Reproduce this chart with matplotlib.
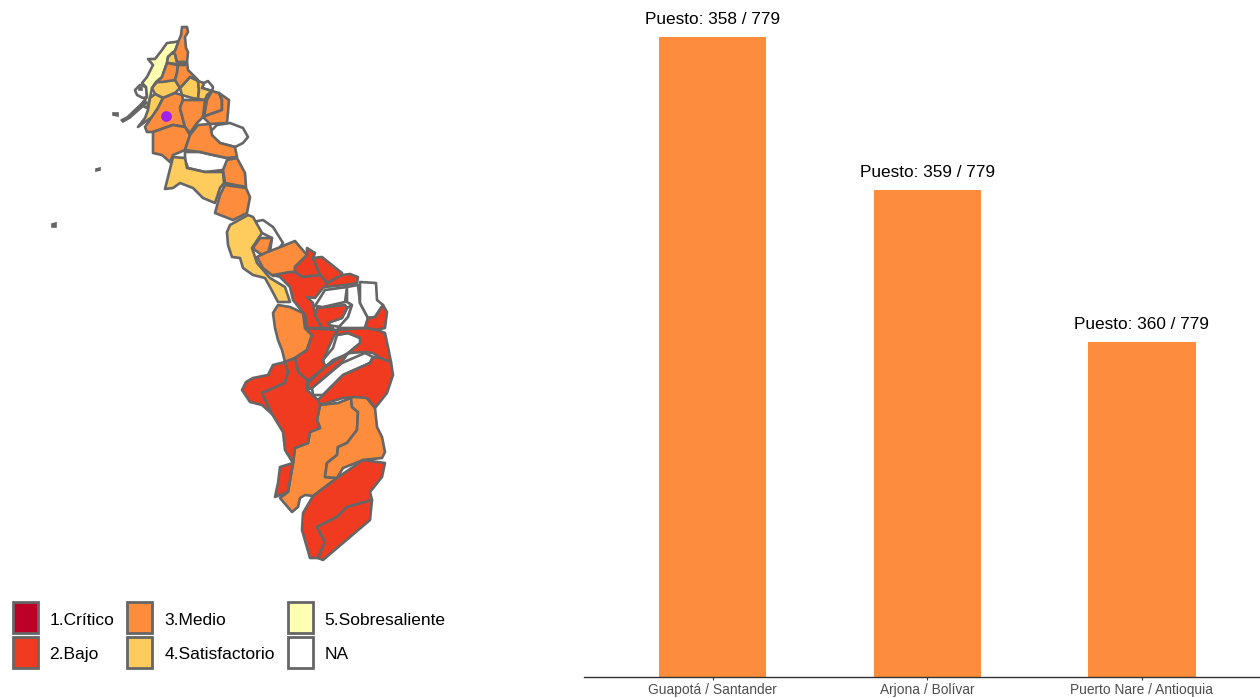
# Mapa por municipios y barras con el puesto de cada municipio
import matplotlib
matplotlib.use("Agg")
import matplotlib.pyplot as plt
from matplotlib.patches import Patch

plt.rcParams['font.family'] = ['Liberation Sans', 'DejaVu Sans']

# Datos de las barras
municipios = ["Guapotá / Santander", "Arjona / Bolívar", "Puerto Nare / Antioquia"]
puestos = ["Puesto: 358 / 779", "Puesto: 359 / 779", "Puesto: 360 / 779"]
valores = [64.0, 48.7, 33.5]

# Leyenda
niveles = ["1.Crítico", "2.Bajo", "3.Medio", "4.Satisfactorio", "5.Sobresaliente", "NA"]
colores = ["#BD0026", "#F03B20", "#FD8D3C", "#FECC5C", "#FFFFB2", "#FFFFFF"]

# Contornos del mapa, agrupados por nivel
mapa_bajo = [
    [(307, 248), (315, 253), (313, 258), (320, 275), (308, 277), (302, 277), (295, 272), (295, 267), (307, 255)],
    [(313, 258), (322, 257), (342, 273), (342, 275), (327, 283), (320, 275)],
    [(327, 283), (342, 275), (350, 274), (358, 277), (357, 283), (345, 285), (325, 287)],
    [(273, 275), (290, 272), (295, 272), (302, 277), (320, 275), (327, 283), (325, 287), (323, 288), (315, 298), (307, 297),
     (313, 303), (315, 315), (322, 328), (307, 328), (305, 315), (293, 300), (290, 287), (280, 277)],
    [(317, 308), (345, 305), (347, 308), (342, 318), (328, 323), (333, 328), (322, 328), (315, 315)],
    [(368, 318), (375, 317), (383, 305), (387, 312), (385, 328), (377, 330), (365, 328)],
    [(305, 328), (337, 330), (333, 338), (323, 360), (325, 367), (309, 380), (307, 380), (298, 372), (295, 358), (307, 350),
     (312, 335)],
    [(337, 330), (365, 328), (377, 330), (385, 333), (388, 347), (391, 362), (380, 358), (373, 353), (365, 352), (348, 353),
     (360, 343), (360, 338), (348, 333), (337, 335)],
    [(309, 382), (325, 367), (348, 353), (342, 362), (312, 388), (307, 390)],
    [(373, 357), (380, 358), (391, 362), (393, 375), (387, 393), (375, 408), (367, 398), (355, 397), (343, 398), (320, 405),
     (318, 400), (323, 395), (343, 375), (370, 363)],
    [(242, 390), (246, 382), (253, 378), (268, 375), (273, 365), (285, 362), (288, 372), (285, 383), (262, 393), (272, 414),
     (262, 405), (250, 402)],
    [(262, 393), (285, 383), (288, 372), (285, 362), (295, 358), (298, 372), (307, 380), (307, 390), (318, 400), (320, 405),
     (317, 420), (320, 428), (310, 432), (308, 443), (295, 448), (293, 463), (285, 450), (283, 432), (272, 414)],
    [(280, 467), (293, 463), (288, 492), (275, 497), (278, 483)],
    [(337, 478), (363, 460), (385, 463), (382, 477), (370, 492), (372, 500), (347, 507), (337, 517), (317, 527), (325, 542),
     (318, 558), (310, 558), (302, 530), (303, 513), (313, 496)],
    [(317, 527), (337, 517), (347, 507), (372, 500), (370, 520), (343, 543), (323, 560), (318, 558), (325, 542)],
]
mapa_medio = [
    [(182, 27), (187, 27), (188, 32), (185, 37), (186, 48), (188, 52), (187, 62), (183, 62), (177, 62), (175, 54), (172, 53),
     (175, 51), (179, 40), (181, 35)],
    [(167, 63), (178, 65), (177, 73), (175, 80), (162, 82), (157, 82), (162, 77)],
    [(178, 65), (185, 65), (187, 62), (188, 70), (198, 80), (190, 77), (180, 88), (175, 80), (177, 73)],
    [(163, 98), (175, 93), (182, 95), (183, 100), (180, 108), (185, 127), (173, 125), (153, 132), (147, 132), (145, 127),
     (158, 108)],
    [(183, 100), (205, 100), (203, 117), (197, 123), (190, 133), (185, 127), (180, 108)],
    [(207, 100), (212, 91), (219, 93), (222, 100), (222, 110), (208, 115), (204, 117)],
    [(219, 93), (229, 100), (228, 112), (227, 123), (210, 124), (203, 117), (208, 115), (222, 110), (222, 100)],
    [(153, 132), (173, 125), (185, 127), (190, 135), (185, 150), (173, 155), (170, 162), (162, 155), (153, 153), (153, 142)],
    [(190, 135), (198, 125), (210, 124), (212, 135), (220, 143), (235, 147), (237, 157), (227, 158), (213, 155), (200, 152),
     (185, 150)],
    [(227, 160), (237, 158), (245, 173), (246, 187), (225, 183), (223, 170)],
    [(225, 185), (246, 188), (250, 197), (247, 213), (233, 220), (215, 213), (220, 195)],
    [(255, 250), (253, 248), (260, 238), (272, 238), (268, 253), (262, 255)],
    [(257, 257), (265, 253), (278, 248), (295, 241), (307, 255), (295, 267), (295, 272), (288, 274), (273, 276), (263, 268)],
    [(278, 305), (290, 307), (303, 313), (305, 328), (312, 335), (307, 350), (295, 358), (285, 362), (282, 350), (278, 340),
     (275, 328), (273, 313)],
    [(320, 405), (338, 403), (351, 398), (352, 407), (358, 412), (357, 430), (347, 443), (338, 447), (337, 455), (327, 463),
     (325, 477), (337, 478), (313, 496), (305, 495), (300, 498), (298, 507), (292, 512), (280, 498), (288, 492), (293, 463),
     (295, 448), (308, 443), (310, 432), (320, 428), (317, 420)],
    [(351, 398), (355, 395), (367, 398), (375, 408), (377, 427), (382, 437), (385, 452), (382, 458), (363, 460), (343, 468),
     (337, 478), (325, 477), (327, 463), (337, 455), (338, 447), (347, 443), (357, 430), (358, 412), (352, 407)],
]
mapa_satisfactorio = [
    [(172, 53), (175, 54), (177, 62), (183, 62), (185, 65), (167, 63), (168, 57)],
    [(157, 82), (175, 80), (180, 88), (175, 93), (163, 98), (155, 94), (152, 88)],
    [(190, 77), (198, 81), (199, 90), (198, 99), (192, 98), (182, 95), (180, 88)],
    [(198, 81), (204, 83), (202, 88), (212, 91), (207, 95), (205, 100), (198, 99), (199, 90)],
    [(155, 94), (163, 98), (158, 108), (152, 117), (138, 127), (145, 118), (148, 110), (150, 98)],
    [(173, 157), (185, 158), (187, 168), (205, 172), (223, 172), (224, 183), (220, 188), (215, 203), (203, 198), (193, 188),
     (180, 183), (173, 188), (165, 189), (168, 177)],
    [(227, 232), (230, 225), (248, 215), (253, 217), (262, 233), (252, 248), (257, 263), (270, 278), (285, 287), (290, 302),
     (278, 302), (270, 287), (265, 278), (253, 275), (243, 268), (240, 258), (232, 257), (228, 245)],
]
mapa_sobresaliente = [
    [(179, 41), (175, 51), (168, 57), (167, 63), (162, 77), (156, 82), (152, 88), (150, 98), (147, 108), (141, 105), (147, 97),
     (146, 87), (142, 83), (147, 77), (153, 65), (148, 59), (155, 59), (162, 50), (167, 43), (175, 42)],
]
mapa_na = [
    [(202, 88), (204, 83), (208, 81), (213, 87), (212, 91)],
    [(210, 132), (217, 125), (230, 123), (243, 128), (248, 137), (243, 143), (235, 147), (220, 143), (213, 137)],
    [(185, 152), (200, 152), (213, 155), (227, 158), (228, 165), (223, 170), (205, 172), (188, 168), (185, 160)],
    [(253, 222), (263, 220), (273, 227), (283, 243), (278, 250), (270, 252), (272, 238), (262, 233)],
    [(315, 306), (325, 290), (347, 287), (345, 302), (323, 307)],
    [(347, 308), (352, 305), (348, 317), (340, 327), (328, 325), (329, 322), (342, 318)],
    [(347, 287), (358, 285), (360, 303), (368, 318), (365, 328), (338, 328), (348, 317), (352, 305), (347, 302)],
    [(360, 282), (376, 283), (377, 300), (383, 305), (375, 317), (368, 318), (360, 303)],
    [(337, 335), (348, 333), (360, 338), (362, 343), (350, 353), (333, 360), (325, 367), (323, 360), (333, 348)],
    [(365, 353), (373, 357), (370, 363), (343, 375), (323, 395), (313, 395), (312, 388), (342, 363)],
    [(135, 90), (140, 85), (146, 87), (147, 97), (143, 98), (137, 95)],
]
mapa_islas = [
    [(121, 120), (127, 117), (145, 100), (147, 103), (130, 118), (123, 122)],
    [(113, 113), (118, 113), (118, 116), (113, 115)],
    [(96, 169), (100, 168), (100, 170), (96, 171)],
    [(52, 224), (56, 223), (56, 227), (52, 227)],
    [(139, 87), (142, 88), (142, 90), (139, 90)],
]
punto_x = [166]
punto_y = [116]

fig = plt.figure(figsize=(12.6, 6.98), dpi=100)

# Mapa (en pixeles de la imagen)
ax_mapa = fig.add_axes([0, 0, 584 / 1260, 1])
ax_mapa.set_xlim(0, 584)
ax_mapa.set_ylim(698, 0)
ax_mapa.axis("off")

grupos = [(mapa_na, colores[5]), (mapa_sobresaliente, colores[4]), (mapa_satisfactorio, colores[3]),
          (mapa_medio, colores[2]), (mapa_bajo, colores[1])]
for poligonos, color in grupos:
    for poligono in poligonos:
        xs = [p[0] for p in poligono]
        ys = [p[1] for p in poligono]
        ax_mapa.fill(xs, ys, facecolor=color, edgecolor="#666666", linewidth=1.9, joinstyle="round")
for poligono in mapa_islas:
    ax_mapa.fill([p[0] for p in poligono], [p[1] for p in poligono], facecolor="#666666", edgecolor="#666666", linewidth=1.2)

ax_mapa.scatter(punto_x, punto_y, s=60, color="#A020F0", zorder=5, linewidths=0)

# Leyenda
cajas = [Patch(facecolor=c, edgecolor="#666666", linewidth=2) for c in colores]
leyenda = ax_mapa.legend(cajas, niveles, ncol=3, loc="lower left", bbox_to_anchor=(12.5 / 584, 1 - 667.5 / 698), frameon=False,
                         fontsize=12.5, handlelength=1.45, handleheight=2.36, handletextpad=0.68, labelspacing=0.2,
                         columnspacing=0.74, borderpad=0, borderaxespad=0)
for texto in leyenda.get_texts():
    texto.set_y(-2)

# Barras
ax = fig.add_axes([584 / 1260, 21 / 698, 676 / 1260, 677 / 698])
posiciones = range(len(municipios))
barras = ax.bar(posiciones, valores, width=0.5, color=colores[2])
ax.bar_label(barras, labels=puestos, padding=7, fontsize=12.4, color="black")
ax.set_xlim(-0.6, 2.55)
ax.set_ylim(0, 67.7)
ax.set_xticks(list(posiciones))
ax.set_xticklabels(municipios, fontsize=9.9, color="#4D4D4D")
ax.tick_params(axis="x", length=2.5, width=0.8, color="#333333", pad=2)
ax.set_yticks([])
for lado in ["top", "right", "left"]:
    ax.spines[lado].set_visible(False)
ax.spines["bottom"].set_color("#333333")
ax.spines["bottom"].set_linewidth(1)
ax.patch.set_alpha(0)

fig.savefig("out.png", dpi=100)
